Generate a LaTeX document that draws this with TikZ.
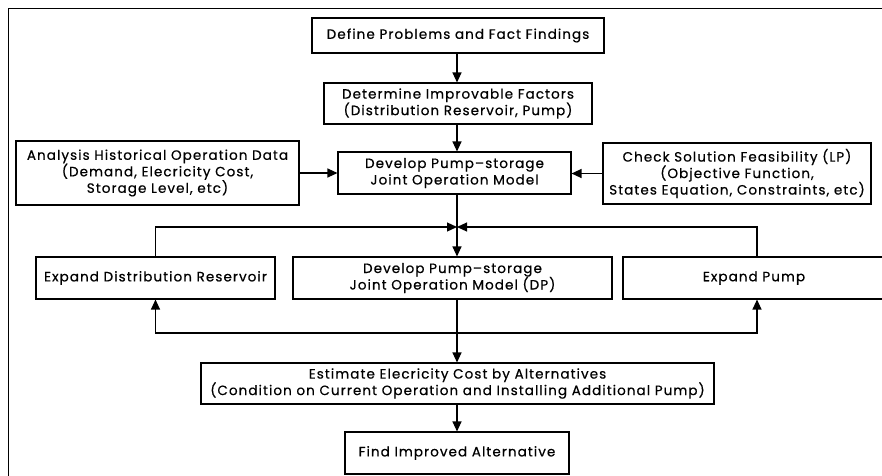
\documentclass[tikz,border=0pt]{standalone}
\usepackage{fontspec}
\setmainfont{Poppins}[FakeBold=0.6,LetterSpace=8]
\usetikzlibrary{arrows.meta}
\begin{document}
\begin{tikzpicture}[x=1pt,y=-1pt,
  box/.style={draw, line width=1.1pt, rectangle, inner sep=0pt, align=center,
    font=\fontsize{13.5}{16.5}\selectfont},
  conn/.style={line width=1.2pt},
  arr/.style={conn, -{Triangle[length=10pt,width=9pt]}}]
\useasboundingbox (0,0) rectangle (882,475);
\draw[line width=1pt] (8,8) rectangle (900,500);
\node[box, minimum width=292pt, minimum height=35pt] (def) at (458,35.5) {Define Problems and Fact Findings};
\node[box, minimum width=268pt, minimum height=41pt] (det) at (458,103.5) {Determine Improvable Factors\\(Distribution Reservoir, Pump)};
\node[box, minimum width=233pt, minimum height=42pt] (dev) at (454.5,173) {Develop Pump--storage\\Joint Operation Model};
\node[box, minimum width=283pt, minimum height=64pt] (ana) at (157.5,173) {Analysis Historical Operation Data\\(Demand, Elecricity Cost,\\Storage Level, etc)};
\node[box, minimum width=268pt, minimum height=61pt] (chk) at (737,173.5) {Check Solution Feasibility (LP)\\(Objective Function,\\States Equation, Constraints, etc)};
\node[box, minimum width=239pt, minimum height=42pt] (edr) at (155.5,278) {Expand Distribution Reservoir};
\node[box, minimum width=319pt, minimum height=42pt] (dp) at (452.5,278) {Develop Pump--storage\\Joint Operation Model (DP)};
\node[box, minimum width=262pt, minimum height=42pt] (ep) at (754,278) {Expand Pump};
\node[box, minimum width=513pt, minimum height=41pt] (est) at (457.5,383.5) {Estimate Elecricity Cost by Alternatives\\(Condition on Current Operation and Installing Additional Pump)};
\node[box, minimum width=224pt, minimum height=42pt] (find) at (457,453) {Find Improved Alternative};
\coordinate (ja) at (457,227);
\coordinate (jb) at (457,333);
\draw[arr] (def.south -| ja) -- (det.north -| ja);
\draw[arr] (det.south -| ja) -- (dev.north -| ja);
\draw[arr] (ana.east) -- (ana.east -| dev.west);
\draw[arr] (chk.west) -- (chk.west -| dev.east);
\draw[arr] (dev.south -| ja) -- (dp.north -| ja);
\draw[arr] (edr.north) |- (ja);
\draw[arr] (ep.north -| 757,0) |- (ja);
\draw[arr] (dp.south -| ja) -- (est.north -| ja);
\draw[arr] (jb) -| (edr.south);
\draw[arr] (jb) -| (ep.south -| 757,0);
\draw[arr] (est.south -| ja) -- (find.north -| ja);
\end{tikzpicture}
\end{document}
